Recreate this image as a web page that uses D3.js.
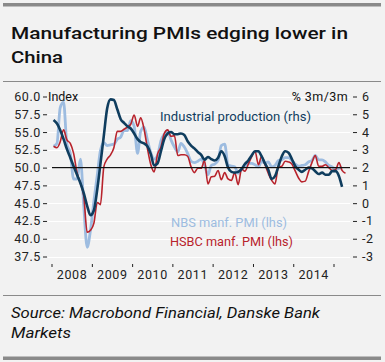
<!DOCTYPE html>
<html><head><meta charset="utf-8">
<script src="https://cdn.jsdelivr.net/npm/d3@7"></script>
<style>
html,body{margin:0;padding:0;background:#f2f2f2;}
svg{display:block;font-family:Roboto,"Open Sans",sans-serif;}
</style></head>
<body><svg id="c" width="385" height="362"></svg>
<script>
// ---- data (monthly, Jan 2008 onwards) ----
const startYear = 2008;
const yearLabels = ["2008","2009","2010","2011","2012","2013","2014"];
const leftTicks = [37.5,40,42.5,45,47.5,50,52.5,55,57.5,60];
const rightTicks = [-3,-2,-1,0,1,2,3,4,5,6];
// NBS manufacturing PMI (lhs), Jan 2008 - Mar 2015
const nbsPMI = [
 53.0,53.4,58.4,59.2,53.3,52.0,48.4,48.4,51.2,44.6,38.8,41.2,
 45.3,49.0,52.4,53.5,53.1,53.2,53.3,54.0,54.3,55.2,55.2,56.6,
 55.8,52.0,55.1,55.7,53.9,52.1,51.2,51.7,53.8,54.7,55.2,53.9,
 52.9,52.2,53.4,52.9,52.0,50.9,50.7,50.9,51.2,50.4,49.0,50.3,
 50.5,51.0,53.1,53.3,50.4,50.2,50.1,49.2,49.8,50.2,50.6,50.6,
 50.4,50.1,50.9,50.6,50.8,50.1,50.3,51.0,51.1,51.4,51.4,51.0,
 50.5,50.2,50.3,50.4,50.8,51.0,51.7,51.1,51.1,50.8,50.3,50.1,
 49.8,49.9,50.1];
// HSBC manufacturing PMI (lhs), Jan 2008 - Apr 2015
const hsbcPMI = [
 53.0,52.8,53.6,55.3,53.9,53.4,52.0,49.3,47.8,46.0,40.9,41.2,
 42.2,45.1,44.8,50.1,51.2,51.8,52.8,55.1,55.1,55.4,55.7,56.1,
 57.4,55.8,57.0,55.4,52.7,50.4,49.4,51.9,52.9,54.8,55.3,54.4,
 54.5,51.7,51.8,51.8,51.6,50.1,49.3,49.9,49.9,51.0,47.7,48.7,
 48.8,49.6,48.3,49.3,48.4,48.2,49.3,47.6,49.8,49.5,50.5,51.5,
 52.3,50.4,51.6,50.4,49.2,48.2,47.7,50.1,50.2,50.9,50.8,50.5,
 49.5,48.5,48.0,48.1,49.4,50.7,51.7,50.2,50.2,50.4,50.0,49.6,
 49.7,50.7,49.6,49.2];
// Industrial production, % 3m/3m (rhs), Jan 2008 - Mar 2015
const industrialProduction = [
 4.68,4.48,4.12,3.60,3.04,2.56,2.08,1.60,1.12,0.56,-0.16,-0.68,
 -0.40,0.80,2.20,3.80,5.32,5.84,5.80,5.28,4.72,4.52,4.32,4.20,
 3.92,3.60,3.44,3.36,3.20,2.76,2.12,2.24,2.92,3.60,3.92,4.00,
 3.88,3.88,3.92,3.84,3.48,3.24,3.08,2.88,2.72,2.44,2.60,2.48,
 2.40,2.56,2.92,2.64,2.00,1.76,1.72,1.76,1.92,2.20,2.40,2.68,
 2.92,2.92,2.64,2.24,1.88,1.36,1.52,2.08,2.64,2.92,2.84,2.48,
 2.08,1.88,1.76,1.88,2.00,1.96,1.80,1.64,1.72,1.60,1.60,1.80,
 1.80,1.52,0.92];

const colNavy = "#0f3d5e", colLight = "#9dbce0", colRed = "#b8232c";

const svg = d3.select("#c");
const monthDate = i => new Date(startYear, i, 15);

// frame
svg.append("rect").attr("x",0).attr("y",0).attr("width",385).attr("height",362).attr("fill","#f2f2f2");
svg.append("rect").attr("x",3).attr("y",3).attr("width",378).attr("height",3.5).attr("fill","#8a8a8a");
svg.append("rect").attr("x",3).attr("y",356.5).attr("width",378).attr("height",3.5).attr("fill","#8a8a8a");
svg.append("line").attr("x1",3).attr("x2",381).attr("y1",81.5).attr("y2",81.5).attr("stroke","#8a8a8a").attr("stroke-width",1);
svg.append("line").attr("x1",3).attr("x2",381).attr("y1",295.5).attr("y2",295.5).attr("stroke","#8a8a8a").attr("stroke-width",1);

// title
svg.append("text").attr("x",11).attr("y",39).attr("font-size",17).attr("font-weight",500).attr("fill","#111")
  .attr("textLength",337).attr("lengthAdjust","spacingAndGlyphs").text("Manufacturing PMIs edging lower in");
svg.append("text").attr("x",11).attr("y",63).attr("font-size",17).attr("font-weight",500).attr("fill","#111")
  .attr("textLength",52).attr("lengthAdjust","spacingAndGlyphs").text("China");

// scales
const x = d3.scaleTime().domain([new Date(2008,0,1), new Date(2015,0,1)]).range([52,334]);
const yL = d3.scaleLinear().domain([37.5,60]).range([256.5,96.5]);
const yR = d3.scaleLinear().domain([-3,6]).range([256.5,96.5]);

// gridlines
svg.append("g").selectAll("line").data(leftTicks).join("line")
  .attr("x1",48).attr("x2",350).attr("y1",d=>Math.round(yL(d))+0.5).attr("y2",d=>Math.round(yL(d))+0.5)
  .attr("stroke","#ffffff").attr("stroke-width",1);

// axes
const axL = svg.append("g").attr("transform","translate(47,0)")
  .call(d3.axisLeft(yL).tickValues(leftTicks).tickFormat(d3.format(".1f")).tickSize(4).tickPadding(2));
const axR = svg.append("g").attr("transform","translate(353,0)")
  .call(d3.axisRight(yR).tickValues(rightTicks).tickFormat(d=>String(d)).tickSize(4).tickPadding(5));
[axL,axR].forEach(a=>{
  a.select(".domain").remove();
  a.selectAll("line").attr("stroke","#222");
  a.selectAll("text").attr("font-size",12.5).attr("fill","#222").attr("font-family","Roboto,sans-serif").attr("letter-spacing","0.6px");
});

// x axis ticks and labels
const yearStarts = d3.range(2008, 2016).map(y=>new Date(y,0,1));
svg.append("g").selectAll("line").data(yearStarts).join("line")
  .attr("x1",d=>x(d)).attr("x2",d=>x(d)).attr("y1",264).attr("y2",267)
  .attr("stroke","#222");
svg.append("g").selectAll("text").data(yearLabels).join("text")
  .attr("x",d=>x(new Date(+d,6,1))).attr("y",278.5).attr("text-anchor","middle")
  .attr("font-size",12.5).attr("fill","#222").attr("letter-spacing","0.6px").text(d=>d);

// axis titles
svg.append("text").attr("x",48).attr("y",yL(60)).attr("dy","0.35em").attr("font-size",12.5).attr("fill","#111").text("Index");
svg.append("text").attr("x",348).attr("y",yR(6)).attr("dy","0.35em").attr("text-anchor","end").attr("font-size",12.5).attr("fill","#111").attr("letter-spacing","0.4px").text("% 3m/3m");

// series
const lineL = d3.line().x((d,i)=>x(monthDate(i))).y(d=>yL(d)).curve(d3.curveMonotoneX);
const lineR = d3.line().x((d,i)=>x(monthDate(i))).y(d=>yR(d)).curve(d3.curveMonotoneX);
svg.append("path").datum(nbsPMI).attr("d",lineL).attr("fill","none").attr("stroke",colLight).attr("stroke-width",2.8).attr("stroke-linejoin","round");
svg.append("path").datum(hsbcPMI).attr("d",lineL).attr("fill","none").attr("stroke",colRed).attr("stroke-width",1.6).attr("stroke-linejoin","round");
svg.append("path").datum(industrialProduction).attr("d",lineR).attr("fill","none").attr("stroke",colNavy).attr("stroke-width",2.6).attr("stroke-linejoin","round");

// 50 line
svg.append("line").attr("x1",52).attr("x2",350).attr("y1",yL(50)).attr("y2",yL(50)).attr("stroke","#111").attr("stroke-width",1.2);

// legend labels
const leg = [
  {t:"Industrial production (rhs)", c:colNavy, x:160, y:117, w:151},
  {t:"NBS manf. PMI (lhs)", c:colLight, x:171, y:222.5, w:116},
  {t:"HSBC manf. PMI (lhs)", c:colRed, x:170, y:241.5, w:123}
];
svg.append("g").selectAll("text").data(leg).join("text")
  .attr("x",d=>d.x).attr("y",d=>d.y).attr("dy","0.35em").attr("fill",d=>d.c).attr("font-size",12.5)
  .attr("textLength",d=>d.w).attr("lengthAdjust","spacingAndGlyphs").text(d=>d.t);

// source
svg.append("text").attr("x",11).attr("y",318).attr("font-size",14).attr("font-style","italic").attr("fill","#111")
  .attr("textLength",309).attr("lengthAdjust","spacingAndGlyphs").text("Source: Macrobond Financial, Danske Bank");
svg.append("text").attr("x",11).attr("y",338).attr("font-size",14).attr("font-style","italic").attr("fill","#111")
  .attr("textLength",60).attr("lengthAdjust","spacingAndGlyphs").text("Markets");
</script></body></html>
